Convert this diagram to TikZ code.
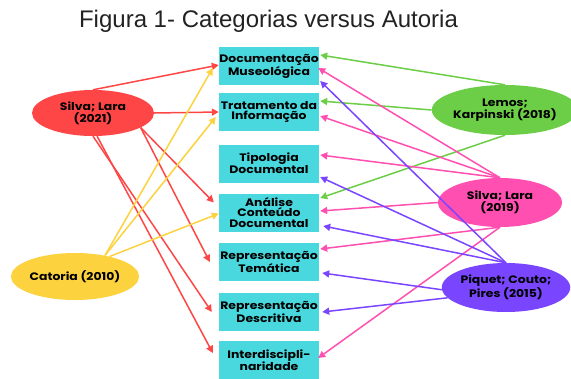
\documentclass[tikz,border=0pt]{standalone}
\usepackage{fontspec}
\setmainfont{Liberation Sans}
\newfontfamily\katfont{Poppins}[FakeStretch=1.15]
\usetikzlibrary{
  arrows.meta, % For arrow tips
  shapes.geometric % For the ellipses
}

% Farben
\definecolor{kasten}{RGB}{72,216,222}
\definecolor{rot}{RGB}{255,70,70}
\definecolor{gelb}{RGB}{253,210,63}
\definecolor{gruen}{RGB}{108,206,70}
\definecolor{rosa}{RGB}{255,79,176}
\definecolor{lila}{RGB}{122,69,255}
\definecolor{titelgrau}{RGB}{34,34,34}

\begin{document}
\begin{tikzpicture}[
      x=1pt, y=-1pt, % Pixel-like units, y pointing down
      kat/.style={fill=kasten, minimum width=100pt, minimum height=38pt, inner sep=0pt,
        align=center, font=\katfont\bfseries\fontsize{10.8}{10.6}\selectfont}, % Style for categories
      autor/.style={ellipse, inner sep=0pt, align=center,
        font=\katfont\bfseries\fontsize{10.8}{11}\selectfont}, % Style for authors
      link/.style={line width=1.5pt, -{Triangle[length=7pt,width=7pt]}}, % Style for arrows
    ]

    \useasboundingbox (0,0) rectangle (571,378);

    \node[text=titelgrau, font=\fontsize{24}{28}\selectfont] (titel) at (268.5,21) {Figura 1- Categorias versus Autoria};

    % Kategorien
    \node[kat] (dm) at (269,66) {Documentação\\Museológica};
    \node[kat] (td) at (269,112) {Tratamento da\\Informação};
    \node[kat] (ti) at (269,163.5) {Tipologia\\Documental};
    \node[kat] (ac) at (269,212.5) {Análise\\Conteúdo\\Documental};
    \node[kat] (rt) at (269,262) {Representação\\Temática};
    \node[kat] (rd) at (269,312) {Representação\\Descritiva};
    \node[kat] (in) at (269,360) {Interdiscipli-\\naridade};

    % Autoren
    \node[autor, fill=rot, minimum width=122pt, minimum height=46pt] (sl21) at (93,113) {Silva; Lara\\(2021)};
    \node[autor, fill=gelb, minimum width=124pt, minimum height=47pt] (cat) at (75,276.5) {Catoria (2010)};
    \node[autor, fill=gruen, minimum width=130pt, minimum height=50pt] (lk) at (505,110) {Lemos;\\Karpinski (2018)};
    \node[autor, fill=rosa, minimum width=124pt, minimum height=49pt] (sl19) at (500,202.5) {Silva; Lara\\(2019)};
    \node[autor, fill=lila, minimum width=124pt, minimum height=49pt] (pcp) at (506,287.5) {Piquet; Couto;\\Pires (2015)};

    % Pfeile links
    \foreach \s/\t/\dx/\dy in {north/dm/0/1, east/td/0/0, -17/ac/-5/10, -17/rt/-9/0, south/rd/-7/0, -80/in/-6/7}
    \draw[link, rot] (sl21.\s) -- ([xshift=\dx pt, yshift=\dy pt]\t.west);

    \foreach \s/\t/\dx/\dy in {35/dm/-6/-2, 35/td/-3/-5, 30/ac/0/-1}
    \draw[link, gelb] (cat.\s) -- ([xshift=\dx pt, yshift=\dy pt]\t.west);

    % Pfeile rechts
    \foreach \s/\t/\dx/\dy in {north/dm/1/11, west/td/1/11, south/ac/1/14.5}
    \draw[link, gruen] (lk.\s) -- ([xshift=\dx pt, yshift=\dy pt]\t.east);

    \foreach \s/\t/\dx/\dy in {north/dm/-1/-2, north/td/1/-4, north/ti/1/8.5, west/ac/1/1.5, south/rt/1/13, south/in/-1/2}
    \draw[link, rosa] (sl19.\s) -- ([xshift=\dx pt, yshift=\dy pt]\t.east);

    \foreach \s/\t/\dx/\dy in {north/dm/1/-15, north/ti/1/-13.5, north/ac/4/-13.5, 182/rt/3/-11, 190/rd/3/0}
    \draw[link, lila] (pcp.\s) -- ([xshift=\dx pt, yshift=\dy pt]\t.east);

  \end{tikzpicture}
\end{document}
